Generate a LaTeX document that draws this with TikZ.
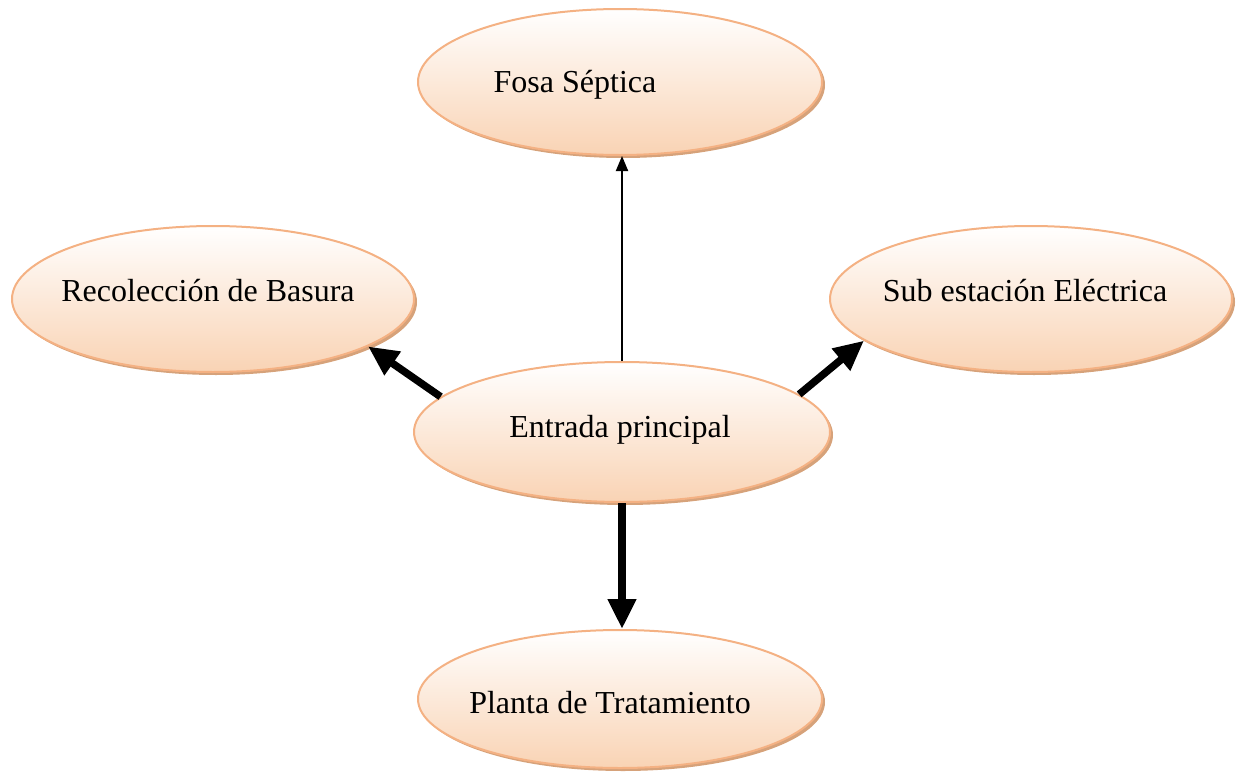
\documentclass[tikz,border=0pt]{standalone}
\usepackage{fontspec}
\setmainfont{Liberation Serif}
\usetikzlibrary{shapes.geometric,shadows,arrows.meta}
\definecolor{peach}{HTML}{F9D3B4}
\definecolor{bordc}{HTML}{F4B183}
\definecolor{shadc}{HTML}{D6A27A}
\tikzset{
  oval/.style={ellipse, draw=bordc, line width=2pt, top color=white, bottom color=peach,
    inner sep=0pt, drop shadow={shadow xshift=3pt, shadow yshift=-3pt, fill=shadc, opacity=1},
    font=\fontsize{32}{38}\selectfont},
  thick arrow/.style={line width=7.5pt, -{Triangle[length=30pt,width=27pt]}},
  thin arrow/.style={line width=2pt, -{Triangle[length=15pt,width=12pt]}}
}
\begin{document}
\begin{tikzpicture}[x=1pt,y=-1pt]
\useasboundingbox (0,0) rectangle (1236,776);
\node[oval, minimum width=404pt, minimum height=146pt,
  label={[name=fosaL, xshift=-45pt, yshift=-3pt, font=\fontsize{32}{38}\selectfont]center:Fosa Séptica}] (fosa) at (620,82) {};
\node[oval, minimum width=402pt, minimum height=146pt,
  label={[name=recoL, xshift=-5pt, yshift=8pt, font=\fontsize{32}{38}\selectfont]center:Recolección de Basura}] (reco) at (213,299) {};
\node[oval, minimum width=402pt, minimum height=146pt,
  label={[name=subL, xshift=-6pt, yshift=8pt, font=\fontsize{32}{38}\selectfont]center:Sub estación Eléctrica}] (sub) at (1031,299) {};
\node[oval, minimum width=416pt, minimum height=140pt,
  label={[name=entL, xshift=-2pt, yshift=2pt, font=\fontsize{32}{38}\selectfont]center:Entrada principal}] (ent) at (622,432) {};
\node[oval, minimum width=404pt, minimum height=138pt,
  label={[name=plaL, xshift=-10pt, yshift=-4pt, font=\fontsize{32}{38}\selectfont]center:Planta de Tratamiento}] (pla) at (620,699) {};

\draw[thin arrow] (ent.north) -- (ent.north |- fosa.south);
\draw[thick arrow] (ent.169.5) -- (reco.343);
\draw[thick arrow] (ent.12) -- (sub.194);
\draw[thick arrow] (ent.south) -- (ent.south |- pla.north);
\end{tikzpicture}
\end{document}
